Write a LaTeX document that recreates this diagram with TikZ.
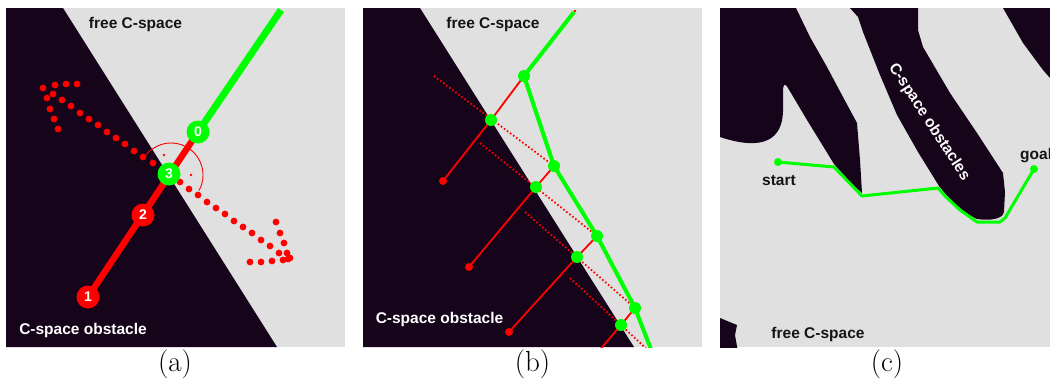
\documentclass[tikz,border=0pt]{standalone}
\usepackage{fontspec}
\newfontfamily\labfont{Liberation Sans}
\definecolor{obst}{RGB}{22,4,26}
\definecolor{freec}{RGB}{224,224,224}
\definecolor{txtc}{RGB}{20,20,20}
\definecolor{grc}{RGB}{0,255,0}
\definecolor{rdc}{RGB}{255,0,0}
\tikzset{
  lab/.style={font=\labfont\bfseries\fontsize{15.5}{18}\selectfont, inner sep=0pt},
  darklab/.style={lab, text=txtc, anchor=base},
  lightlab/.style={lab, text=white, anchor=base},
  numnode/.style={circle, inner sep=0pt, minimum size=23pt, text=white,
     font=\labfont\bfseries\fontsize{14}{14}\selectfont},
  gnode/.style={numnode, fill=grc},
  rnode/.style={numnode, fill=rdc},
  gthick/.style={draw=grc, line width=7pt},
  rthick/.style={draw=rdc, line width=6.5pt},
  gdot/.style={circle, fill=grc, inner sep=0pt, minimum size=12pt},
  rdot/.style={circle, fill=rdc, inner sep=0pt, minimum size=8pt},
  endpt/.style={circle, fill=grc, inner sep=0pt, minimum size=8pt},
  contact/.style={draw=rdc, line width=1.8pt},
  probe/.style={draw=rdc, line width=1.8pt, dash pattern=on 1.6pt off 2.2pt},
  gpath/.style={draw=grc, line width=4pt, line join=round},
  cpath/.style={draw=grc, line width=3pt, line join=round},
  caption/.style={font=\fontsize{29}{32}\selectfont, anchor=base, inner sep=0pt},
}
\begin{document}
\begin{tikzpicture}[x=1pt,y=-1pt]
\useasboundingbox (0,0) rectangle (1050,381);
\fill[white] (0,0) rectangle (1050,381);

% ---------------- panel (a)
\begin{scope}
\clip (6,8) rectangle (345,347);
\fill[freec] (6,8) rectangle (345,347);
\fill[obst] (6,8) -- (63,8) -- (277,347) -- (6,347) -- cycle;
\coordinate (gtop) at (281,10);
\coordinate (p0) at (198,132);
\coordinate (p3) at (169,174);
\coordinate (p2) at (143,215);
\coordinate (p1) at (88,297);
\draw[gthick] (gtop) -- (p0);
\draw[rthick] (p0) -- (p1);
% search circle
\draw[rdc, line width=0.9pt] (171,175) ++(-148:32) arc[start angle=-148, end angle=29, radius=32];
\fill[rdc] (164,155) circle[radius=1.4pt] (191,175) circle[radius=1.4pt];
% dotted arrows
\foreach \p in {(153,163),(143,157),(134,151),(125,144),(116,138),(107,132),(98,125),(89,119),(80,113),(71,106),(62,100),(53,94),(43,88),(55,85),(66,84),(77,84),(47,98),(50,109),(54,119),(58,129)}
  \fill[rdc] \p circle[radius=3.4pt];
\foreach \p in {(180,182),(189,189),(198,195),(207,202),(216,208),(225,214),(234,221),(243,227),(252,233),(261,240),(270,246),(279,253),(288,259),(250,262),(261,262),(272,261),(283,260),(276,222),(280,233),(284,243),(287,253),(290,258)}
  \fill[rdc] \p circle[radius=3.4pt];
\node[gnode] (n0) at (p0) {0};
\node[gnode] (n3) at (p3) {3};
\node[rnode] (n2) at (p2) {2};
\node[rnode] (n1) at (p1) {1};
\node[darklab] (fa) at (135.5,28) {free C-space};
\node[lightlab] (oa) at (83,334) {C-space obstacle};
\end{scope}
\node[caption] (ca) at (175,371) {(a)};

% ---------------- panel (b)
\begin{scope}
\clip (363,8) rectangle (702,347);
\fill[freec] (363,8) rectangle (702,347);
\fill[obst] (363,8) -- (420,8) -- (634,347) -- (363,347) -- cycle;
\coordinate (g0) at (574,12);
\coordinate (g1) at (524,76);
\coordinate (c1) at (491,120);
\coordinate (e1) at (443,181);
\coordinate (g2) at (554,166);
\coordinate (c2) at (536,187);
\coordinate (e2) at (469,267);
\coordinate (g3) at (597,236);
\coordinate (c3) at (577,257);
\coordinate (e3) at (509,332);
\coordinate (g4) at (635,308);
\coordinate (c4) at (621,325);
\coordinate (e4) at (598,352);
\coordinate (g5) at (652,352);
\coordinate (d1) at (434,76);
\coordinate (d2) at (480,143);
\coordinate (d3) at (525,212);
\coordinate (d4) at (570,278);
\coordinate (d4e) at (650,352);
\draw[probe] (d1) -- (g2);
\draw[probe] (d2) -- (g3);
\draw[probe] (d3) -- (g4);
\draw[probe] (d4) -- (d4e);
\draw[contact] (g1) -- (c1) -- (e1);
\draw[contact] (g2) -- (c2) -- (e2);
\draw[contact] (g3) -- (c3) -- (e3);
\draw[contact] (g4) -- (c4) -- (e4);
\draw[gpath] (g0) -- (g1) -- (g2) -- (g3) -- (g4) -- (g5);
\fill[rdc] (575,11) circle[radius=1.3pt];
\foreach \n in {g1,c1,g2,c2,g3,c3,g4,c4} \node[gdot] at (\n) {};
\foreach \n in {e1,e2,e3} \node[rdot] at (\n) {};
\node[darklab] (fb) at (493,28) {free C-space};
\node[lightlab] (ob) at (439.5,323) {C-space obstacle};
\end{scope}
\node[caption] (cb) at (532.5,371) {(b)};

% ---------------- panel (c)
\begin{scope}
\clip (720,8) rectangle (1050,347);
\fill[freec] (720,8) rectangle (1050,347);
% left obstacle with finger
\fill[obst] (715,0) -- (796,0) -- (796,8) -- (810,37) -- (827,67) -- (843,97) -- (857,123)
  -- (860,160) -- (862,193) -- (849,181) -- (834,164) -- (807,120) -- (788,88)
  .. controls (785,83) and (783,83) .. (783,92) -- (783,112)
  .. controls (782,138) and (765,152) .. (720,137) -- (715,137) -- cycle;
% middle obstacle
\fill[obst] (850,0) -- (918,0) -- (918,30) -- (923,47) -- (950,93) -- (977,133)
  -- (1003,173) -- (1005,192) -- (1004,212)
  .. controls (1003,219) and (990,221) .. (977,219)
  .. controls (962,212) and (950,200) .. (939,186)
  -- (918,152) -- (897,115) -- (880,75) -- (863,32) -- (858,17) -- (850,8) -- cycle;
% top right obstacle
\fill[obst] (1003,0) -- (1003,8) -- (1023,43) -- (1043,70) -- (1050,78) -- (1056,78) -- (1056,0) -- cycle;
% bottom left obstacle
\fill[obst] (715,318) -- (720,318) -- (737,325) -- (735,335) -- (738,352) -- (715,352) -- cycle;
\coordinate (s) at (778,162);
\coordinate (q1) at (834,167);
\coordinate (q2) at (862,196);
\coordinate (q3) at (938,188);
\coordinate (q4) at (945,196);
\coordinate (q5) at (960,210);
\coordinate (q6) at (977,222);
\coordinate (q7) at (1000,222);
\coordinate (q8) at (1005,218);
\coordinate (gl) at (1034,169);
\draw[cpath] (s) -- (q1) -- (q2) -- (q3) -- (q4) -- (q5) -- (q6) -- (q7) -- (q8) -- (gl);
\node[endpt] (start) at (s) {};
\node[endpt] (goal) at (gl) {};
\node[lab, text=white, rotate=-57] (oc) at (929,122) {C-space obstacles};
\node[darklab] (ls) at (779,185) {start};
\node[darklab, anchor=base west] (lg) at (1020,159) {goal};
\node[darklab] (fc) at (818,338) {free C-space};
\end{scope}
\node[caption] (cc) at (887,371) {(c)};
\end{tikzpicture}
\end{document}
